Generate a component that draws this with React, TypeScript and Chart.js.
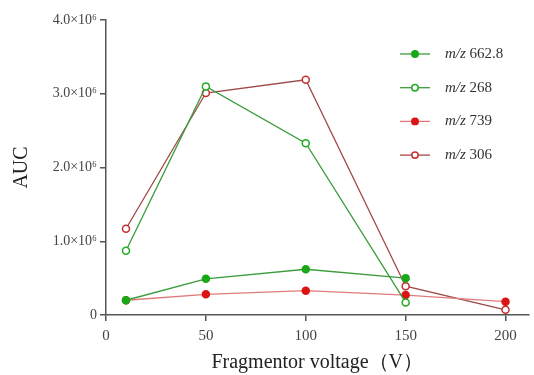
import React, { useEffect, useRef } from "react";
import { Chart, registerables } from "chart.js";

Chart.register(...registerables);

const voltages = [10, 50, 100, 150, 200];
const mz6628 = [0.2e6, 0.49e6, 0.62e6, 0.5e6, null];
const mz268 = [0.87e6, 3.1e6, 2.33e6, 0.17e6, null];
const mz739 = [0.2e6, 0.28e6, 0.33e6, 0.27e6, 0.18e6];
const mz306 = [1.17e6, 3.01e6, 3.19e6, 0.39e6, 0.07e6];
const seriesNames = ["662.8", "268", "739", "306"];
const xTicks = [0, 50, 100, 150, 200];
const yTicks = [0, 1e6, 2e6, 3e6, 4e6];
const yTickLabels = ["0", "1.0×10⁶", "2.0×10⁶", "3.0×10⁶", "4.0×10⁶"];

const styles = [
  { line: "#3c9c3c", point: "#18a818", fill: "#18a818" },
  { line: "#3c9c3c", point: "#22aa22", fill: "#ffffff" },
  { line: "#e07a7a", point: "#dd1414", fill: "#dd1414" },
  { line: "#a04848", point: "#c43030", fill: "#ffffff" },
];

const SERIF = "'Liberation Serif', 'DejaVu Serif', serif";

const legendPlugin = {
  id: "customLegend",
  afterDraw(chart: any) {
    const ctx = chart.ctx;
    ctx.save();
    seriesNames.forEach((name, i) => {
      const y = 54 + i * 33.7;
      const s = styles[i];
      ctx.strokeStyle = s.line;
      ctx.lineWidth = 1.3;
      ctx.beginPath();
      ctx.moveTo(400, y);
      ctx.lineTo(430, y);
      ctx.stroke();
      ctx.beginPath();
      ctx.arc(415, y, 3.2, 0, Math.PI * 2);
      ctx.fillStyle = s.fill;
      ctx.fill();
      ctx.strokeStyle = s.point;
      ctx.lineWidth = 1.5;
      ctx.stroke();
      ctx.fillStyle = "#333";
      ctx.textBaseline = "middle";
      ctx.font = "italic 15px " + SERIF;
      ctx.fillText("m/z", 445, y);
      const w = ctx.measureText("m/z ").width;
      ctx.font = "15px " + SERIF;
      ctx.fillText(name, 445 + w, y);
    });
    ctx.restore();
  },
};

export default function App() {
  const ref = useRef<HTMLCanvasElement>(null);
  useEffect(() => {
    const toPts = (arr: (number | null)[]) =>
      arr.map((v, i) => ({ x: voltages[i], y: v }));
    const datasets = [mz6628, mz268, mz739, mz306].map((arr, i) => ({
      label: "m/z " + seriesNames[i],
      data: toPts(arr),
      borderColor: styles[i].line,
      borderWidth: 1.3,
      pointRadius: 3.5,
      pointBorderWidth: 1.5,
      pointBackgroundColor: styles[i].fill,
      pointBorderColor: styles[i].point,
      spanGaps: false,
      tension: 0,
    }));
    const chart = new Chart(ref.current!, {
      type: "line",
      data: { datasets },
      plugins: [legendPlugin],
      options: {
        animation: false,
        responsive: false,
        layout: { padding: { top: 20, right: 0, left: 0, bottom: 0 } },
        plugins: { legend: { display: false }, tooltip: { enabled: false } },
        scales: {
          x: {
            type: "linear",
            min: 0,
            max: 211.5,
            afterBuildTicks: (s: any) => {
              s.ticks = xTicks.map((v) => ({ value: v }));
            },
            afterFit: (s: any) => {
              s.height = 60;
            },
            border: { display: true, color: "#555", width: 1.5 },
            grid: { drawOnChartArea: false, drawTicks: true, tickLength: 6, color: "#555", lineWidth: 1.5 },
            ticks: { color: "#444", font: { family: SERIF, size: 15 }, padding: 6, maxRotation: 0 },
            title: {
              display: true,
              text: "Fragmentor voltage（V）",
              color: "#222",
              font: { family: SERIF, size: 20 },
              padding: { top: 6, bottom: 0 },
            },
          },
          y: {
            type: "linear",
            min: 0,
            max: 4e6,
            afterBuildTicks: (s: any) => {
              s.ticks = yTicks.map((v) => ({ value: v }));
            },
            afterFit: (s: any) => {
              s.width = 106;
            },
            border: { display: true, color: "#555", width: 1.5 },
            grid: { drawOnChartArea: false, drawTicks: true, tickLength: 6, color: "#555", lineWidth: 1.5 },
            ticks: {
              color: "#444",
              font: { family: SERIF, size: 14 },
              padding: 3,
              callback: (v: any) => {
                const idx = yTicks.indexOf(Number(v));
                return idx >= 0 ? yTickLabels[idx] : "";
              },
            },
            title: {
              display: true,
              text: "AUC",
              color: "#222",
              font: { family: SERIF, size: 20 },
              padding: { top: 10, bottom: 8 },
            },
          },
        },
      },
    } as any);
    return () => chart.destroy();
  }, []);
  return (
    <div style={{ position: "fixed", left: 0, top: 0, width: 534, height: 375, background: "#fff" }}>
      <canvas ref={ref} width={534} height={375} style={{ width: 534, height: 375 }} />
    </div>
  );
}
